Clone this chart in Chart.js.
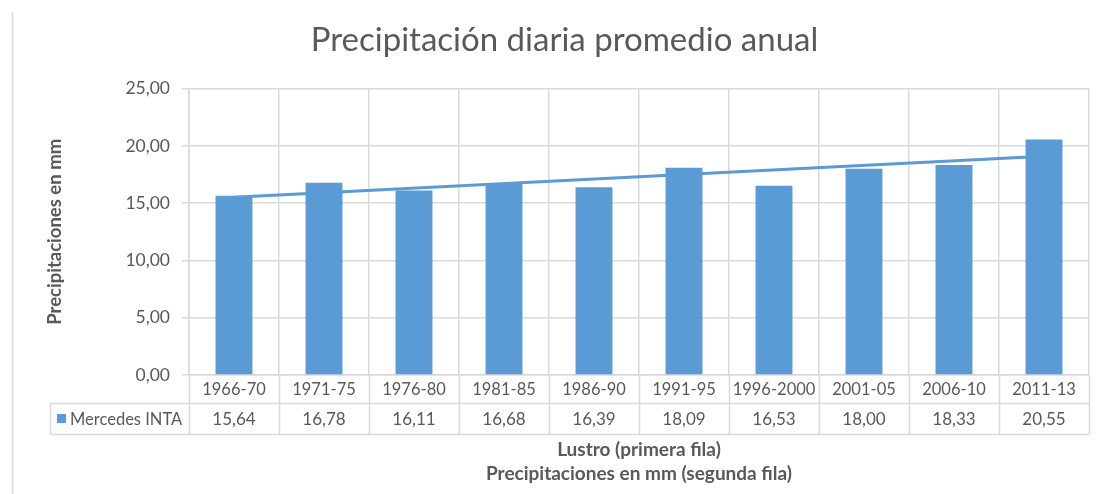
<!DOCTYPE html>
<html>
<head>
<meta charset="utf-8">
<title>Precipitación diaria promedio anual</title>
<script src="https://cdn.jsdelivr.net/npm/chart.js@4.4.1/dist/chart.umd.min.js"></script>
<style>
 html,body{margin:0;padding:0;background:#fff;}
 #wrap{width:1101px;height:494px;}
</style>
</head>
<body>
<div id="wrap"><canvas id="precipChart" width="1101" height="494"></canvas></div>
<script>
const lustros=["1966-70","1971-75","1976-80","1981-85","1986-90","1991-95","1996-2000","2001-05","2006-10","2011-13"];
const precip=[15.64,16.78,16.11,16.68,16.39,18.09,16.53,18.00,18.33,20.55];
// linea de tendencia: extremos
const tendencia=[15.52,null,null,null,null,null,null,null,null,19.10];
const yTicks=[0,5,10,15,20,25];

const FONT="Lato, 'Open Sans', sans-serif";
const GRIS="#595959";
const LINEA="#d9d9d9";
const AZUL="#5b9bd5";

const fmt=v=>v.toFixed(2).replace(".",",");

// tabla de datos debajo del eje X
const tablaPlugin={
 id:"tabla",
 afterDraw(chart){
   const ctx=chart.ctx;
   const x=chart.scales.x;
   const area=chart.chartArea;
   const fila1=403.5, fila2=434.5, izq=50.5;
   const n=lustros.length;
   const paso=(area.right-area.left)/n;

   ctx.save();
   ctx.strokeStyle=LINEA;
   ctx.lineWidth=1.5;

   // marco izquierdo
   ctx.beginPath();
   ctx.moveTo(12.5,12);ctx.lineTo(12.5,494);
   ctx.stroke();

   ctx.beginPath();
   for(let i=0;i<=n;i++){
     const px=Math.round(area.left+i*paso)+0.5;
     ctx.moveTo(px,area.bottom);ctx.lineTo(px,fila2);
   }
   ctx.moveTo(izq,fila1);ctx.lineTo(area.right,fila1);
   ctx.moveTo(izq,fila2);ctx.lineTo(area.right,fila2);
   ctx.moveTo(izq,fila1);ctx.lineTo(izq,fila2);
   ctx.stroke();

   // leyenda
   ctx.fillStyle=AZUL;
   ctx.fillRect(57,414,9,9);
   ctx.font="16.5px "+FONT;
   ctx.fillStyle=GRIS;
   ctx.textBaseline="middle";
   ctx.textAlign="left";
   ctx.fillText(chart.data.datasets[1].label,70,419.5);

   // valores
   ctx.textAlign="center";
   ctx.font="17px "+FONT;
   precip.forEach((v,i)=>{
     ctx.fillText(fmt(v),x.getPixelForValue(i),419.5);
   });
   ctx.restore();
 }
};

new Chart(document.getElementById("precipChart"),{
 data:{
   labels:lustros,
   datasets:[
     {
       type:"line",
       label:"Lineal (Mercedes INTA)",
       data:tendencia,
       spanGaps:true,
       borderColor:AZUL,
       borderWidth:3,
       pointRadius:0,
       order:0
     },
     {
       type:"bar",
       label:"Mercedes INTA",
       data:precip,
       backgroundColor:AZUL,
       barPercentage:0.41,
       categoryPercentage:1,
       order:1
     }
   ]
 },
 options:{
   responsive:false,
   animation:false,
   layout:{padding:{left:40,right:12,top:0,bottom:0}},
   plugins:{
     legend:{display:false},
     tooltip:{enabled:false},
     title:{
       display:true,
       text:"Precipitación diaria promedio anual",
       color:GRIS,
       font:{family:FONT,size:33,weight:"normal"},
       padding:{top:21,bottom:28}
     }
   },
   scales:{
     x:{
       grid:{color:LINEA,lineWidth:1.5,drawTicks:false},
       border:{color:LINEA,width:1.5},
       ticks:{color:GRIS,font:{family:FONT,size:16.5},padding:5,maxRotation:0,autoSkip:false},
       title:{
         display:true,
         text:["Lustro (primera fila)","Precipitaciones en mm (segunda fila)"],
         color:GRIS,
         font:{family:FONT,size:19,weight:"bold",lineHeight:1.263},
         padding:{top:38,bottom:8}
       },
       afterFit(s){s.height=119;}
     },
     y:{
       min:0,max:25,
       afterBuildTicks(s){s.ticks=yTicks.map(v=>({value:v}));},
       grid:{color:LINEA,lineWidth:1.5,tickLength:7},
       border:{color:LINEA,width:1.5},
       ticks:{color:GRIS,font:{family:FONT,size:17.5},padding:12,callback:v=>fmt(v)},
       title:{
         display:true,
         text:"Precipitaciones en mm",
         color:GRIS,
         font:{family:FONT,size:18.5,weight:"bold",lineHeight:1.2},
         padding:{top:4,bottom:0}
       },
       afterFit(s){s.width=149;}
     }
   }
 },
 plugins:[tablaPlugin]
});
</script>
</body>
</html>
